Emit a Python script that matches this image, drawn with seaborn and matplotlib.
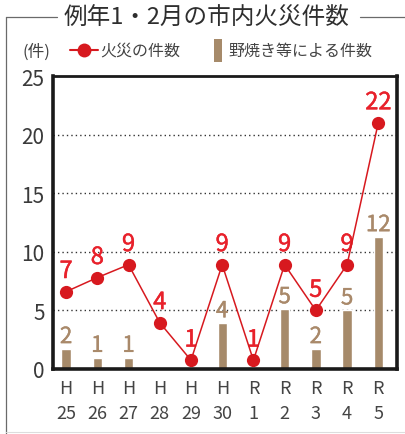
import numpy as np
import pandas as pd
import matplotlib
matplotlib.use("Agg")
import matplotlib.pyplot as plt
import matplotlib.patheffects as pe
from matplotlib.lines import Line2D
from matplotlib.patches import Rectangle
import seaborn as sns

# ---- data ----
era = ["H", "H", "H", "H", "H", "H", "R", "R", "R", "R", "R"]
year = ["25", "26", "27", "28", "29", "30", "1", "2", "3", "4", "5"]
fires = [6.6, 7.8, 8.9, 3.95, 0.75, 8.9, 0.75, 8.9, 5.0, 8.9, 21.0]
fire_labels = ["7", "8", "9", "4", "1", "9", "1", "9", "5", "9", "22"]
burns = [1.7, 0.95, 0.95, 0, 0, 3.9, 0, 5.1, 1.7, 5.0, 11.25]
burn_labels = ["2", "1", "1", "", "", "4", "", "5", "2", "5", "12"]
yticks = [0, 5, 10, 15, 20, 25]

title = "例年1・2月の市内火災件数"
legend_fire = "火災の件数"
legend_burn = "野焼き等による件数"
unit = "(件)"

RED = "#D7191F"
RED_TXT = "#E8212B"
BROWN = "#A68A6A"
BROWN_TXT = "#A9896A"
TXT = "#3a3a3a"

sns.set_style("white")
plt.rcParams["font.family"] = ["Noto Sans CJK JP", "DejaVu Sans"]

W, H = 406, 435
fig = plt.figure(figsize=(W / 100, H / 100), dpi=100)
ax = fig.add_axes([53 / W, 1 - 370 / H, (397 - 53) / W, (370 - 77) / H])

labels = [f"{e}\n{y}" for e, y in zip(era, year)]
df = pd.DataFrame({"label": labels, "fires": fires, "burns": burns})
xs = np.arange(len(df))

# grid
for v in yticks[1:-1]:
    ax.axhline(v, color="#333333", lw=1.0, ls=(0, (1, 2.2)), zorder=0.5)

sns.barplot(data=df, x="label", y="burns", color=BROWN, width=0.3,
            saturation=1, ax=ax, zorder=2)
sns.lineplot(x=xs, y=df["fires"].to_numpy(), ax=ax, color=RED, lw=1.1,
             marker="o", markersize=9.5, markeredgewidth=0, zorder=4)

for x, v, t in zip(xs, burns, burn_labels):
    if t:
        ax.annotate(t, (x, v), xytext=(0, 9), textcoords="offset points",
                    ha="center", va="center", fontsize=16, color=BROWN_TXT,
                    zorder=3,
                    path_effects=[pe.withStroke(linewidth=0.3, foreground=BROWN_TXT)])
for x, v, t in zip(xs, fires, fire_labels):
    ax.annotate(t, (x, v), xytext=(0, 14.5), textcoords="offset points",
                ha="center", va="center", fontsize=17, color=RED_TXT,
                zorder=3,
                path_effects=[pe.withStroke(linewidth=0.35, foreground=RED_TXT)])

ax.set_xlim(-0.42, 10.6)
ax.set_ylim(0, 25)
ax.set_yticks(yticks)
ax.set_yticklabels([str(v) for v in yticks], fontsize=15, color=TXT)
ax.set_xticks(xs)
ax.set_xticklabels(labels, fontsize=13, color="#444444", linespacing=1.45)
ax.tick_params(axis="both", length=0)
ax.tick_params(axis="y", pad=6)
ax.tick_params(axis="x", pad=7.5)
ax.set_xlabel("")
ax.set_ylabel("")
for s in ax.spines.values():
    s.set_visible(True)
    s.set_color("#1a1a1a")
    s.set_linewidth(2.6)
ax.spines["top"].set_linewidth(2.0)

# ---- figure decorations ----
def px(x, y):
    return x / W, 1 - y / H

frame_c = "#6a6a6a"
for (x0, y0), (x1, y1) in [((6, 18), (6, 435)), ((6, 18), (57, 18)),
                           ((360, 18), (406, 18))]:
    a, b = px(x0, y0)
    c, d = px(x1, y1)
    fig.add_artist(Line2D([a, c], [b, d], transform=fig.transFigure,
                          color=frame_c, lw=0.9))
a, b = px(6, 433)
c, d = px(406, 433)
fig.add_artist(Line2D([a, c], [b, d], transform=fig.transFigure,
                      color="#dddddd", lw=0.8))

fig.text(*px(207, 18), title, ha="center", va="center", fontsize=17, color="#2e2e2e")
fig.text(*px(36, 52), unit, ha="center", va="center", fontsize=12, color="#444444")

# legend (manual)
a, b = px(70, 51)
c, d = px(98, 51)
fig.add_artist(Line2D([a, c], [b, d], transform=fig.transFigure, color=RED, lw=1.5))
fig.add_artist(Line2D([(a + c) / 2], [b], transform=fig.transFigure, color=RED,
                      marker="o", markersize=10, markeredgewidth=0))
fig.text(*px(100, 51), legend_fire, ha="left", va="center", fontsize=11.5, color="#444444")
rx, ry = px(214, 63)
fig.add_artist(Rectangle((rx, ry), 8 / W, 23 / H, transform=fig.transFigure,
                         facecolor=BROWN, edgecolor="none"))
fig.text(*px(228, 51), legend_burn, ha="left", va="center", fontsize=11.5, color="#444444")

fig.savefig("out.png", dpi=100)
